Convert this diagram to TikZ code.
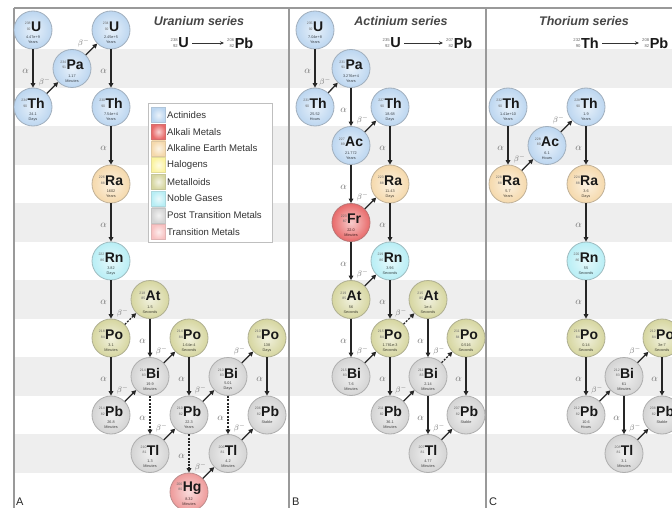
\documentclass[tikz,border=0pt]{standalone}
\usepackage{fontspec}
\setmainfont{Liberation Sans}
\usetikzlibrary{arrows.meta}
\definecolor{cAct}{HTML}{BCD6F0}
\definecolor{cAlk}{HTML}{E86A6A}
\definecolor{cAE}{HTML}{F5D9AC}
\definecolor{cHal}{HTML}{FBF3A0}
\definecolor{cMet}{HTML}{D6D6A0}
\definecolor{cNob}{HTML}{B8EEF5}
\definecolor{cPTM}{HTML}{D4D4D4}
\definecolor{cTM}{HTML}{F8C2C2}
\definecolor{cHg}{HTML}{EE9A9A}
\definecolor{bandc}{HTML}{EEEEEE}
\newcommand{\iso}[2]{\raisebox{1.2pt}{\fontsize{3.5}{3.9}\selectfont\mdseries\color{black!60}\shortstack[r]{#1\\#2}}\kern0.4pt}
\newcommand{\isoF}[2]{\raisebox{0.8pt}{\fontsize{4.2}{4.6}\selectfont\mdseries\color{black!60}\shortstack[r]{#1\\#2}}\kern0.6pt}
\newcommand{\Elem}[9]{%
  \node[elem=#4] (#1) at (#2,{30+38.5*#3}) {};
  \node[symb] (#1s) at ([yshift=3.5pt]#1.center) {\iso{#5}{#6}#7};
  \node[hlt, text=#4!30!black] (#1t) at ([yshift=-10pt]#1.center) {#8\\#9};
}
\newcommand{\DecA}[3][]{\draw[darr,#1] (#2) -- node[alab] (#2#3) {$\alpha$} (#3);}
\newcommand{\DecB}[3][]{\draw[darr,#1] (#2) -- node[blab] (#2#3) {$\beta^-$} (#3);}
\tikzset{
  elem/.style={circle, minimum size=38pt, inner sep=0pt, draw=#1!55!gray, line width=0.8pt,
    inner color=#1!35!white, outer color=#1},
  symb/.style={inner sep=0pt, font=\fontsize{14}{14}\selectfont\bfseries, text=black!90},
  hlt/.style={inner sep=0pt, align=center, font=\fontsize{3.8}{5}\selectfont},
  darr/.style={line width=1.3pt, draw=black!85, -{Triangle[length=4.5pt,width=4.6pt]}},
  darrd/.style={dash pattern=on 2pt off 1.3pt},
  alab/.style={pos=0.58, left=3.5pt, inner sep=0pt, text=black!55, font=\fontsize{10}{10}\selectfont},
  blab/.style={pos=0.5, above left=1.5pt, inner sep=0pt, text=black!55, font=\fontsize{8.5}{8.5}\selectfont},
  swatch/.style={rectangle, minimum width=14pt, minimum height=15pt, inner sep=0pt,
    inner color=#1!30!white, outer color=#1, draw=#1!80!gray, line width=0.3pt},
  legt/.style={anchor=west, inner sep=0pt, font=\fontsize{9.6}{10}\selectfont, text=black!80},
  ttl/.style={inner sep=0pt, font=\fontsize{12.5}{14}\selectfont\bfseries\itshape, text=black!72},
  fml/.style={inner sep=0pt, font=\fontsize{14.5}{15}\selectfont\bfseries, text=black!90},
  farr/.style={line width=0.8pt, draw=black!80, -{Stealth[length=4pt,width=3.5pt]}, shorten <=3pt, shorten >=3pt},
  pline/.style={draw=black!40, line width=1.1pt},
  plab/.style={anchor=north west, inner sep=0pt, font=\fontsize{11}{11}\selectfont, text=black!85}
}
\begin{document}
\begin{tikzpicture}[x=1pt, y=-1pt]
\useasboundingbox (0,0) rectangle (672,508);
\fill[white] (0,0) rectangle (672,508);
% background bands
\foreach \k in {1,3,...,11} {
  \fill[bandc] (15,{30+38.5*(\k-0.5)}) rectangle (672,{30+38.5*(\k+0.5)});
}
% panel frames
\draw[pline] (14,8) -- (672,8);
\draw[pline] (14,8) -- (14,508);
\draw[pline] (289,8) -- (289,508);
\draw[pline] (486,8) -- (486,508);
\node[plab] (labA) at (16,498) {A};
\node[plab] (labB) at (292,498) {B};
\node[plab] (labC) at (489,498) {C};

% titles
\node[ttl] (tA) at (199,21) {Uranium series};
\node[fml, anchor=east] (fA1) at (189,43) {\isoF{238}{92}U};
\node[fml, anchor=west] (fA2) at (227,43) {\isoF{206}{82}Pb};
\draw[farr] (fA1) -- (fA2);
\node[ttl] (tB) at (401,21) {Actinium series};
\node[fml, anchor=east] (fB1) at (401,43) {\isoF{235}{92}U};
\node[fml, anchor=west] (fB2) at (446,43) {\isoF{207}{82}Pb};
\draw[farr] (fB1) -- (fB2);
\node[ttl] (tC) at (584,21) {Thorium series};
\node[fml, anchor=east] (fC1) at (599,43) {\isoF{232}{90}Th};
\node[fml, anchor=west] (fC2) at (642,43) {\isoF{208}{82}Pb};
\draw[farr] (fC1) -- (fC2);

% legend
\node[draw=black!25, fill=white, line width=0.6pt, minimum width=124pt, minimum height=139pt, anchor=north west, inner sep=0pt] (legend) at (148,103) {};
\foreach \i/\c/\t in {0/cAct/Actinides, 1/cAlk/Alkali Metals, 2/cAE/Alkaline Earth Metals, 3/cHal/Halogens, 4/cMet/Metalloids, 5/cNob/Noble Gases, 6/cPTM/Post Transition Metals, 7/cTM/Transition Metals} {
  \node[swatch=\c] (sw\i) at (158.5,{115+16.7*\i}) {};
  \node[legt] (lt\i) at (167,{115+16.7*\i}) {\t};
}

% ---------------- Panel A: Uranium series
\Elem{U238}{33}{0}{cAct}{238}{92}{U}{4.47e+9}{Years}
\Elem{Pa234}{72}{1}{cAct}{234}{91}{Pa}{1.17}{Minutes}
\Elem{U234}{111}{0}{cAct}{234}{92}{U}{2.45e+5}{Years}
\Elem{Th234}{33}{2}{cAct}{234}{90}{Th}{24.1}{Days}
\Elem{Th230}{111}{2}{cAct}{230}{90}{Th}{7.54e+4}{Years}
\Elem{Ra226}{111}{4}{cAE}{226}{88}{Ra}{1602}{Years}
\Elem{Rn222}{111}{6}{cNob}{222}{86}{Rn}{3.82}{Days}
\Elem{At218}{150}{7}{cMet}{218}{85}{At}{1.5}{Seconds}
\Elem{Po218}{111}{8}{cMet}{218}{84}{Po}{3.1}{Minutes}
\Elem{Po214}{189}{8}{cMet}{214}{84}{Po}{1.64e-4}{Seconds}
\Elem{Po210}{267}{8}{cMet}{210}{84}{Po}{138}{Days}
\Elem{Bi214}{150}{9}{cPTM}{214}{83}{Bi}{19.9}{Minutes}
\Elem{Bi210}{228}{9}{cPTM}{210}{83}{Bi}{5.01}{Days}
\Elem{Pb214}{111}{10}{cPTM}{214}{82}{Pb}{26.8}{Minutes}
\Elem{Pb210}{189}{10}{cPTM}{210}{82}{Pb}{22.3}{Years}
\Elem{Pb206}{267}{10}{cPTM}{206}{82}{Pb}{Stable}{}
\Elem{Tl210}{150}{11}{cPTM}{210}{81}{Tl}{1.3}{Minutes}
\Elem{Tl206}{228}{11}{cPTM}{206}{81}{Tl}{4.2}{Minutes}
\Elem{Hg206}{189}{12}{cHg}{206}{80}{Hg}{8.32}{Minutes}

\DecA{U238}{Th234}
\DecB{Th234}{Pa234}
\DecB{Pa234}{U234}
\DecA{U234}{Th230}
\DecA{Th230}{Ra226}
\DecA{Ra226}{Rn222}
\DecA{Rn222}{Po218}
\DecB[darrd]{Po218}{At218}
\DecA{Po218}{Pb214}
\DecA{At218}{Bi214}
\DecB{Pb214}{Bi214}
\DecB{Bi214}{Po214}
\DecA[darrd]{Bi214}{Tl210}
\DecB{Tl210}{Pb210}
\DecA{Po214}{Pb210}
\DecB{Pb210}{Bi210}
\DecA[darrd]{Pb210}{Hg206}
\DecB{Hg206}{Tl206}
\DecB{Bi210}{Po210}
\DecA[darrd]{Bi210}{Tl206}
\DecB{Tl206}{Pb206}
\DecA{Po210}{Pb206}

% ---------------- Panel B: Actinium series
\Elem{U235}{315}{0}{cAct}{235}{92}{U}{7.04e+8}{Years}
\Elem{Pa231}{351}{1}{cAct}{231}{91}{Pa}{3.276e+4}{Years}
\Elem{Th231}{315}{2}{cAct}{231}{90}{Th}{25.52}{Hours}
\Elem{Th227}{390}{2}{cAct}{227}{90}{Th}{18.68}{Days}
\Elem{Ac227}{351}{3}{cAct}{227}{89}{Ac}{21.772}{Years}
\Elem{Ra223}{390}{4}{cAE}{223}{88}{Ra}{11.43}{Days}
\Elem{Fr223}{351}{5}{cAlk}{223}{87}{Fr}{22.0}{Minutes}
\Elem{Rn219}{390}{6}{cNob}{219}{86}{Rn}{3.96}{Seconds}
\Elem{At219}{351}{7}{cMet}{219}{85}{At}{56}{Seconds}
\Elem{At215}{428}{7}{cMet}{215}{85}{At}{1e-4}{Seconds}
\Elem{Po215}{390}{8}{cMet}{215}{84}{Po}{1.781e-3}{Seconds}
\Elem{Po211}{466}{8}{cMet}{211}{84}{Po}{0.516}{Seconds}
\Elem{Bi215}{351}{9}{cPTM}{215}{83}{Bi}{7.6}{Minutes}
\Elem{Bi211}{428}{9}{cPTM}{211}{83}{Bi}{2.14}{Minutes}
\Elem{Pb211}{390}{10}{cPTM}{211}{82}{Pb}{36.1}{Minutes}
\Elem{Pb207}{466}{10}{cPTM}{207}{82}{Pb}{Stable}{}
\Elem{Tl207}{428}{11}{cPTM}{207}{81}{Tl}{4.77}{Minutes}

\DecA{U235}{Th231}
\DecB{Th231}{Pa231}
\DecA{Pa231}{Ac227}
\DecB{Ac227}{Th227}
\DecA{Th227}{Ra223}
\DecA{Ac227}{Fr223}
\DecB{Fr223}{Ra223}
\DecA{Ra223}{Rn219}
\DecA{Fr223}{At219}
\DecB{At219}{Rn219}
\DecA{Rn219}{Po215}
\DecA{At219}{Bi215}
\DecB{Bi215}{Po215}
\DecB[darrd]{Po215}{At215}
\DecA{At215}{Bi211}
\DecA{Po215}{Pb211}
\DecB{Pb211}{Bi211}
\DecB[darrd]{Bi211}{Po211}
\DecA{Bi211}{Tl207}
\DecA{Po211}{Pb207}
\DecB{Tl207}{Pb207}

% ---------------- Panel C: Thorium series
\Elem{Th232}{508}{2}{cAct}{232}{90}{Th}{1.41e+10}{Years}
\Elem{Ac228}{547}{3}{cAct}{228}{89}{Ac}{6.1}{Hours}
\Elem{Th228}{586}{2}{cAct}{228}{90}{Th}{1.9}{Years}
\Elem{Ra228}{508}{4}{cAE}{228}{88}{Ra}{5.7}{Years}
\Elem{Ra224}{586}{4}{cAE}{224}{88}{Ra}{3.6}{Days}
\Elem{Rn220}{586}{6}{cNob}{220}{86}{Rn}{55}{Seconds}
\Elem{Po216}{586}{8}{cMet}{216}{84}{Po}{0.14}{Seconds}
\Elem{Po212}{662}{8}{cMet}{212}{84}{Po}{3e-7}{Seconds}
\Elem{Bi212}{624}{9}{cPTM}{212}{83}{Bi}{61}{Minutes}
\Elem{Pb212}{586}{10}{cPTM}{212}{82}{Pb}{10.6}{Hours}
\Elem{Pb208}{662}{10}{cPTM}{208}{82}{Pb}{Stable}{}
\Elem{Tl208}{624}{11}{cPTM}{208}{81}{Tl}{3.1}{Minutes}

\DecA{Th232}{Ra228}
\DecB{Ra228}{Ac228}
\DecB{Ac228}{Th228}
\DecA{Th228}{Ra224}
\DecA{Ra224}{Rn220}
\DecA{Rn220}{Po216}
\DecA{Po216}{Pb212}
\DecB{Pb212}{Bi212}
\DecB{Bi212}{Po212}
\DecA{Bi212}{Tl208}
\DecA{Po212}{Pb208}
\DecB{Tl208}{Pb208}
\end{tikzpicture}
\end{document}
